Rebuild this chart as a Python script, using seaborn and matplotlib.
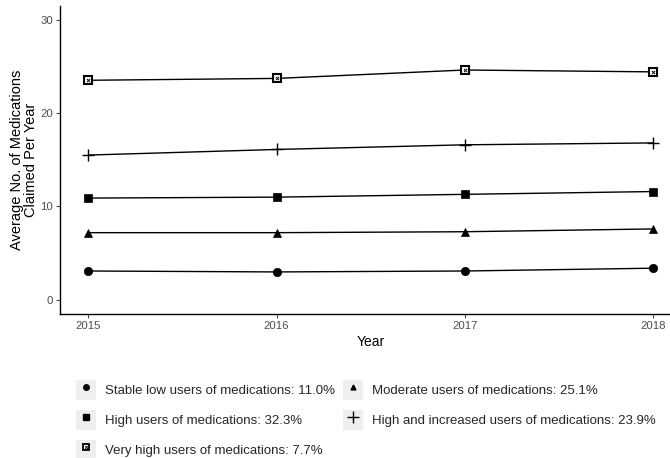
import matplotlib
matplotlib.use("Agg")
import matplotlib.pyplot as plt
import seaborn as sns
import pandas as pd
from matplotlib.lines import Line2D
from matplotlib.patches import Rectangle
from matplotlib.legend_handler import HandlerBase, HandlerLine2D, HandlerTuple

years = [2015, 2016, 2017, 2018]
stable_low = [3.1, 3.0, 3.1, 3.4]
moderate = [7.2, 7.2, 7.3, 7.6]
high = [10.9, 11.0, 11.3, 11.6]
high_increased = [15.5, 16.1, 16.6, 16.8]
very_high = [23.5, 23.7, 24.6, 24.4]

labels = {
    "stable": "Stable low users of medications: 11.0%",
    "moderate": "Moderate users of medications: 25.1%",
    "high": "High users of medications: 32.3%",
    "incr": "High and increased users of medications: 23.9%",
    "vhigh": "Very high users of medications: 7.7%",
}
y_ticks = [0, 10, 20, 30]

sns.set_theme(style="ticks")
plt.rcParams["font.family"] = ["Liberation Sans", "DejaVu Sans"]

df = pd.DataFrame({
    "Year": years * 3,
    "Value": stable_low + moderate + high,
    "Group": ["stable"] * 4 + ["moderate"] * 4 + ["high"] * 4,
})
markers = {"stable": "o", "moderate": "^", "high": "s"}

fig = plt.figure(figsize=(6.70, 4.58), dpi=100)
ax = fig.add_axes([60 / 670, (458 - 314) / 458, 621.5 / 670, (314 - 5.5) / 458])

sns.lineplot(data=df, x="Year", y="Value", style="Group", markers=markers,
             dashes=False, color="black", linewidth=1.0, markersize=6,
             markeredgecolor="black", markeredgewidth=0.5, legend=False, ax=ax)
sns.lineplot(x=years, y=high_increased, color="black", linewidth=1.0,
             marker="+", markersize=9, markeredgecolor="black",
             markeredgewidth=1.0, ax=ax)
sns.lineplot(x=years, y=very_high, color="black", linewidth=1.0, marker="s",
             markersize=5.5, markerfacecolor="white", markeredgecolor="black",
             markeredgewidth=1.5, ax=ax)
sns.scatterplot(x=years, y=very_high, marker="x", color="black", s=5,
                linewidth=0.7, ax=ax, zorder=5)

ax.set_xlim(2014.85, 2018.15)
ax.set_ylim(-1.5, 31.5)
ax.set_xticks(years)
ax.set_xticklabels([str(y) for y in years])
ax.set_yticks(y_ticks)
ax.set_xlabel("Year", fontsize=10, color="black", labelpad=3)
ax.set_ylabel("Average No. of Medications\nClaimed Per Year", fontsize=10.5,
              color="black", linespacing=1.05)
ax.yaxis.set_label_coords(-0.035, 0.5)
ax.tick_params(axis="both", labelsize=8.2, colors="#4D4D4D", length=3,
               width=0.8, pad=2)
for s in ["top", "right"]:
    ax.spines[s].set_visible(False)
for s in ["left", "bottom"]:
    ax.spines[s].set_color("black")
    ax.spines[s].set_linewidth(1.0)


class KeyBox(HandlerBase):
    def __init__(self, inner):
        super().__init__()
        self.inner = inner

    def create_artists(self, legend, orig_handle, xdescent, ydescent, width,
                       height, fontsize, trans):
        rect = Rectangle((-xdescent, -ydescent), width, height,
                         facecolor="#EFEFEF", edgecolor="none", transform=trans)
        arts = self.inner.create_artists(legend, orig_handle, xdescent,
                                         ydescent, width, height, fontsize,
                                         trans)
        return [rect] + list(arts)


def mk(m, ms=4):
    return Line2D([], [], color="black", marker=m, linestyle="none",
                  markersize=ms, markeredgewidth=1.0)

vh_handle = (Line2D([], [], marker="s", linestyle="none", markersize=4.5,
                    markerfacecolor="white", markeredgecolor="black",
                    markeredgewidth=1.3),
             Line2D([], [], marker="x", linestyle="none", markersize=2,
                    color="black", markeredgewidth=0.7))
h_circ, h_sq, h_tri, h_plus = mk("o"), mk("s"), mk("^", 3.5), mk("+", 8)
handles = [h_circ, h_sq, vh_handle, h_tri, h_plus]
hlabels = [labels["stable"], labels["high"], labels["vhigh"],
           labels["moderate"], labels["incr"]]
line_h = HandlerLine2D()
hmap = {h: KeyBox(line_h) for h in [h_circ, h_sq, h_tri, h_plus]}
hmap[vh_handle] = KeyBox(HandlerTuple(ndivide=1, pad=0))
fs = 9.5
px = fs * 100 / 72
leg = fig.legend(handles, hlabels, loc="upper left", ncol=2,
                 bbox_to_anchor=(76 / 670, 1 - 380 / 458), frameon=False,
                 prop={"size": fs},
                 handlelength=20 / px, handleheight=(20 / px - 0.245) / 0.65,
                 handletextpad=9 / px, columnspacing=8 / px,
                 labelspacing=10 / px, borderpad=0,
                 borderaxespad=0, handler_map=hmap)

fig.savefig("out.png", dpi=100)
